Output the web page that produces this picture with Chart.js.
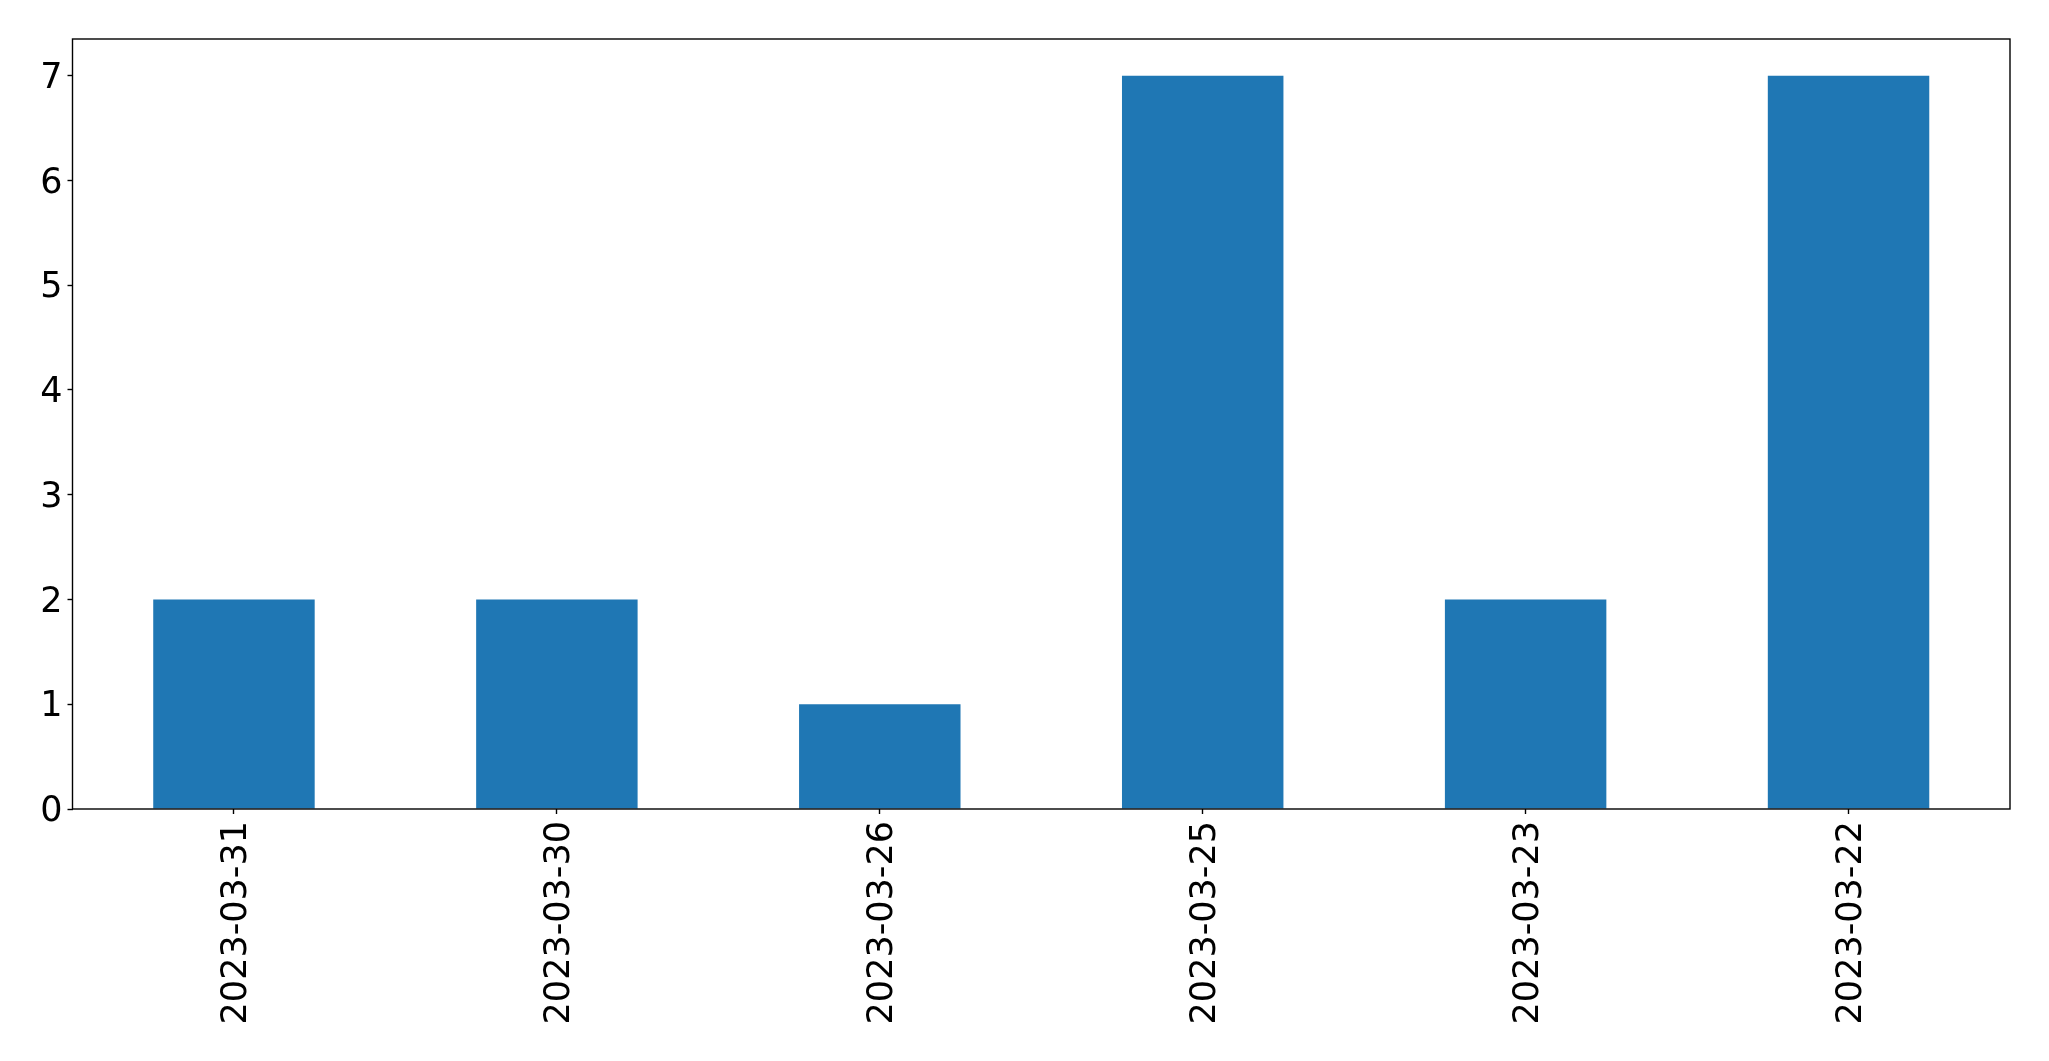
<!DOCTYPE html>
<html lang="en">
<head>
    <meta charset="UTF-8">
    <title>Counts by date</title>
    <script src="https://cdn.jsdelivr.net/npm/chart.js"></script>
    <style>
        body { margin: 0; background: #fff; }
    </style>
</head>
<body>
    <canvas id="barChart" width="2049" height="1061"></canvas>
    <script>
        const dates = ['2023-03-31', '2023-03-30', '2023-03-26', '2023-03-25', '2023-03-23', '2023-03-22'];
        const counts = [2, 2, 1, 7, 2, 7];
        const yTicks = [0, 1, 2, 3, 4, 5, 6, 7];

        // plot frame on all four sides, like matplotlib spines
        const frame = {
            id: 'frame',
            afterDraw(chart) {
                const a = chart.chartArea;
                const c = chart.ctx;
                c.save();
                c.strokeStyle = '#000';
                c.lineWidth = 1.4;
                c.strokeRect(a.left, a.top, a.right - a.left, a.bottom - a.top);
                c.restore();
            }
        };

        const font = { family: 'DejaVu Sans', size: 35 };

        const ctx = document.getElementById('barChart').getContext('2d');
        new Chart(ctx, {
            type: 'bar',
            data: {
                labels: dates,
                datasets: [{
                    data: counts,
                    backgroundColor: '#1f77b4',
                    categoryPercentage: 0.5,
                    barPercentage: 1
                }]
            },
            options: {
                responsive: false,
                animation: false,
                layout: { padding: { top: 39, right: 39, left: 0, bottom: 0 } },
                plugins: { legend: { display: false }, tooltip: { enabled: false } },
                scales: {
                    x: {
                        grid: { offset: false, drawOnChartArea: false, tickLength: 5, color: '#000', tickWidth: 1.4 },
                        border: { display: false },
                        ticks: { font: font, color: '#000', minRotation: 90, maxRotation: 90, padding: 7, labelOffset: 3, autoSkip: false },
                        afterFit(scale) { scale.height = 1061 - 809; }
                    },
                    y: {
                        min: 0,
                        max: 7.35,
                        grid: { drawOnChartArea: false, tickLength: 5, color: '#000', tickWidth: 1.4 },
                        border: { display: false },
                        ticks: { font: font, color: '#000', padding: 5, labelOffset: 3 },
                        afterBuildTicks(scale) { scale.ticks = yTicks.map(v => ({ value: v })); },
                        afterFit(scale) { scale.width = 72.5; }
                    }
                }
            },
            plugins: [frame]
        });
    </script>
</body>
</html>
